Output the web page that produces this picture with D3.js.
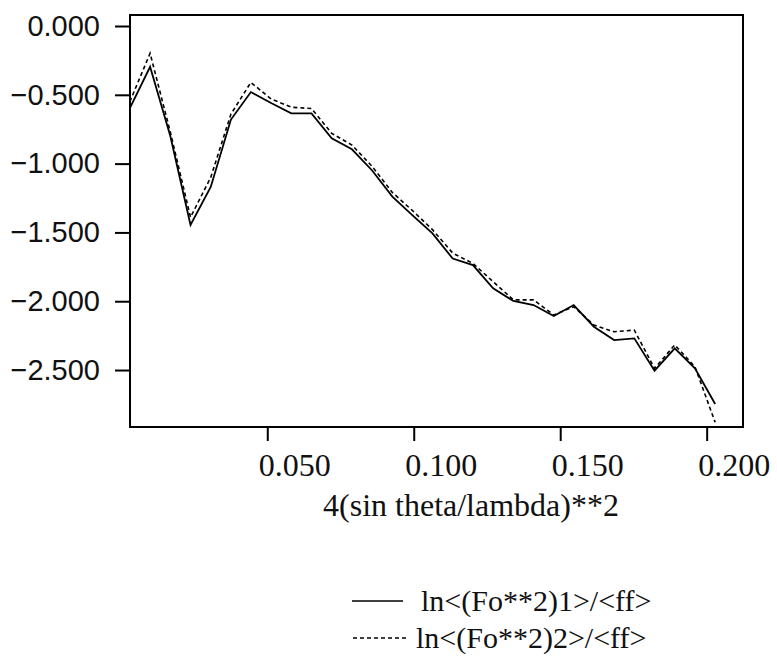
<!DOCTYPE html>
<html>
<head>
<meta charset="utf-8">
<script src="https://cdn.jsdelivr.net/npm/d3@7"></script>
<style>
  html, body { margin: 0; padding: 0; background: #fff; }
  svg { display: block; }
</style>
</head>
<body>
<svg id="chart" width="777" height="656"></svg>
<script>
// ---- data ----
const xValues = [0.0031, 0.0100, 0.0169, 0.0238, 0.0307, 0.0376, 0.0444, 0.0513, 0.0582, 0.0651,
                 0.0720, 0.0789, 0.0858, 0.0927, 0.0995, 0.1064, 0.1133, 0.1202, 0.1271, 0.1340,
                 0.1409, 0.1478, 0.1546, 0.1615, 0.1684, 0.1753, 0.1822, 0.1891, 0.1960, 0.2029];
const series1 = [-0.596, -0.296, -0.800, -1.446, -1.170, -0.680, -0.480, -0.560, -0.635, -0.635,
                 -0.816, -0.896, -1.050, -1.240, -1.374, -1.507, -1.690, -1.737, -1.906, -1.998,
                 -2.028, -2.108, -2.028, -2.185, -2.282, -2.270, -2.505, -2.342, -2.488, -2.747];
const series2 = [-0.550, -0.198, -0.770, -1.390, -1.100, -0.640, -0.410, -0.530, -0.590, -0.600,
                 -0.780, -0.865, -1.020, -1.210, -1.340, -1.480, -1.650, -1.725, -1.858, -1.990,
                 -1.990, -2.100, -2.040, -2.173, -2.222, -2.210, -2.488, -2.318, -2.476, -2.880];
const xTicks = [0.05, 0.10, 0.15, 0.20];
const yTicks = [0.0, -0.5, -1.0, -1.5, -2.0, -2.5];
const seriesNames = ["ln<(Fo**2)1>/<ff>", "ln<(Fo**2)2>/<ff>"];
const xTitle = "4(sin theta/lambda)**2";

(function () {
// ---- layout ----
const mLeft = 130, mRight = 743, mTop = 15, mBottom = 427;
const svg = d3.select("#chart");
svg.append("rect").attr("width", 777).attr("height", 656).attr("fill", "#fff");

const x = d3.scaleLinear().domain([0.00314, 0.2124]).range([mLeft, mRight]);
const y = d3.scaleLinear().domain([-2.914, 0.080]).range([mBottom, mTop]);

// y axis
const yAxis = svg.append("g")
  .attr("transform", `translate(${mLeft},0)`)
  .call(d3.axisLeft(y).tickValues(yTicks).tickFormat(d3.format(".3f")).tickSize(15).tickPadding(15));
yAxis.select(".domain").remove();
yAxis.selectAll(".tick line").attr("stroke", "#000").attr("stroke-width", 2);
yAxis.selectAll(".tick text")
  .attr("font-family", "'Liberation Sans', Arial, sans-serif")
  .attr("font-size", 29).attr("fill", "#111");

// x axis
const xAxis = svg.append("g")
  .attr("transform", `translate(0,${mBottom})`)
  .call(d3.axisBottom(x).tickValues(xTicks).tickFormat(d3.format(".3f")).tickSize(14));
xAxis.select(".domain").remove();
xAxis.selectAll(".tick line").attr("stroke", "#000").attr("stroke-width", 2);
xAxis.selectAll(".tick text")
  .attr("font-family", "'Liberation Serif', 'Times New Roman', serif")
  .attr("font-size", 32).attr("fill", "#111")
  .attr("text-anchor", "start")
  .attr("x", -9).attr("y", 49).attr("dy", 0);

// frame
svg.append("rect")
  .attr("x", mLeft).attr("y", mTop)
  .attr("width", mRight - mLeft).attr("height", mBottom - mTop)
  .attr("fill", "none").attr("stroke", "#000").attr("stroke-width", 2);

// lines
const line = d3.line().x(d => x(d[0])).y(d => y(d[1]));
const d1 = xValues.map((v, i) => [v, series1[i]]);
const d2 = xValues.map((v, i) => [v, series2[i]]);
svg.append("path").datum(d2).attr("d", line)
  .attr("fill", "none").attr("stroke", "#000").attr("stroke-width", 1.6)
  .attr("stroke-dasharray", "4,3");
svg.append("path").datum(d1).attr("d", line)
  .attr("fill", "none").attr("stroke", "#000").attr("stroke-width", 1.8);

// axis title
svg.append("text")
  .attr("x", 471).attr("y", 516)
  .attr("text-anchor", "middle")
  .attr("font-family", "'Liberation Serif', 'Times New Roman', serif")
  .attr("font-size", 32).attr("fill", "#111")
  .text(xTitle);

// legend
const legend = svg.append("g");
const legY = [601, 638];
legend.append("line").attr("x1", 352).attr("x2", 403).attr("y1", legY[0]).attr("y2", legY[0])
  .attr("stroke", "#000").attr("stroke-width", 1.6);
legend.append("line").attr("x1", 353).attr("x2", 407).attr("y1", legY[1]).attr("y2", legY[1])
  .attr("stroke", "#000").attr("stroke-width", 1.4).attr("stroke-dasharray", "4,3");
legend.selectAll("text.leg").data(seriesNames).enter().append("text")
  .attr("class", "leg")
  .attr("x", (d, i) => i === 0 ? 421 : 416)
  .attr("y", (d, i) => legY[i] + 10)
  .attr("font-family", "'Liberation Serif', 'Times New Roman', serif")
  .attr("font-size", 30).attr("fill", "#111")
  .text(d => d);
})();
</script>
</body>
</html>
